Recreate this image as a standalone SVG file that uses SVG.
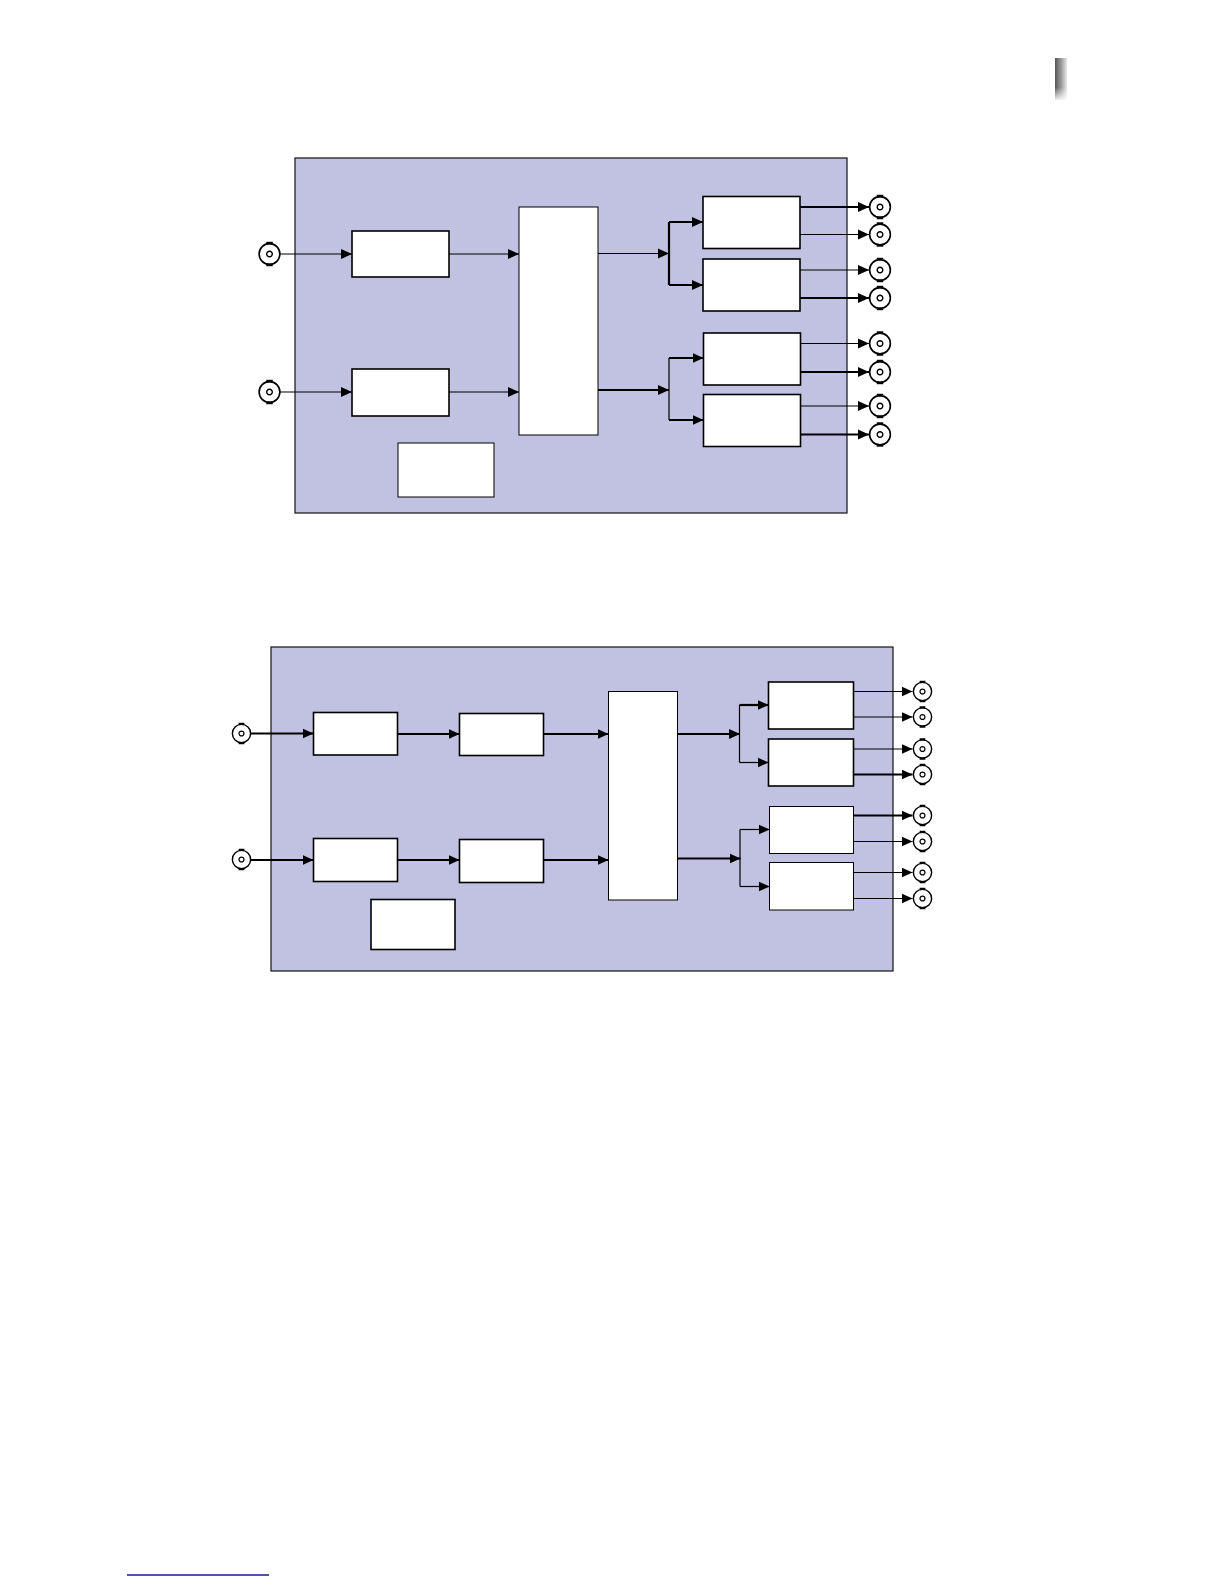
<svg xmlns="http://www.w3.org/2000/svg" width="1224" height="1584" viewBox="0 0 1224 1584">
<style>
.panel{fill:#c1c1e1;stroke:#111;stroke-width:1.2}
.box{fill:#fff;stroke:#000;stroke-width:1.6}
.thin{fill:#fff;stroke:#000;stroke-width:1}
.w1{fill:none;stroke:#000;stroke-width:1.2}
.w2{fill:none;stroke:#000;stroke-width:2.2}
.arr{marker-end:url(#ah)}
</style>
<defs>
<marker id="ah" markerUnits="userSpaceOnUse" markerWidth="12" markerHeight="12" refX="11" refY="5" orient="auto" viewBox="0 0 12 10">
<path d="M0,0 L11,5 L0,10 Z" fill="#000"/>
</marker>
<g id="bnc">
<circle r="9.6" fill="#fff" stroke="#000" stroke-width="1.5"/>
<circle r="2.6" fill="none" stroke="#000" stroke-width="1.3"/>
<rect x="-3" y="-11.3" width="6" height="2.4" fill="#000"/>
<rect x="-3" y="8.9" width="6" height="2.4" fill="#000"/>
</g>
<linearGradient id="gbar" x1="0" y1="0" x2="1" y2="0">
<stop offset="0" stop-color="#555"/>
<stop offset="0.5" stop-color="#999"/>
<stop offset="1" stop-color="#e8e8e8"/>
</linearGradient>
<linearGradient id="gfade" x1="0" y1="0" x2="0" y2="1">
<stop offset="0" stop-color="#fff" stop-opacity="0"/>
<stop offset="0.7" stop-color="#fff" stop-opacity="0"/>
<stop offset="1" stop-color="#fff" stop-opacity="0.9"/>
</linearGradient>
</defs>

<g id="page-mark">
<rect x="1055" y="58" width="12" height="42" fill="url(#gbar)"/>
<rect x="1055" y="58" width="12" height="42" fill="url(#gfade)"/>
</g>

<!-- Diagram 1 -->
<g id="d1-panel"><rect class="panel" x="295" y="158" width="552" height="355"/></g>
<g id="d1-in1"><use href="#bnc" transform="translate(269.5,254) scale(1.08)"/></g>
<g id="d1-in2"><use href="#bnc" transform="translate(269.5,392) scale(1.08)"/></g>
<g id="d1-a1"><rect class="box" x="352" y="231" width="97" height="46"/></g>
<g id="d1-a2"><rect class="box" x="352" y="369" width="97" height="47"/></g>
<g id="d1-center"><rect class="thin" x="519" y="207" width="79" height="228"/></g>
<g id="d1-small"><rect class="thin" x="398" y="443" width="96" height="54"/></g>
<g id="d1-b1"><rect class="box" x="703" y="196.5" width="97" height="52"/></g>
<g id="d1-b2"><rect class="box" x="703" y="259" width="97" height="52"/></g>
<g id="d1-b3"><rect class="box" x="703.5" y="333" width="97" height="52"/></g>
<g id="d1-b4"><rect class="box" x="703.5" y="394.5" width="97" height="52"/></g>
<g id="d1-out1"><use href="#bnc" transform="translate(880,207) scale(1.08)"/></g>
<g id="d1-out2"><use href="#bnc" transform="translate(880,234.5) scale(1.08)"/></g>
<g id="d1-out3"><use href="#bnc" transform="translate(880,270) scale(1.08)"/></g>
<g id="d1-out4"><use href="#bnc" transform="translate(880,298) scale(1.08)"/></g>
<g id="d1-out5"><use href="#bnc" transform="translate(880,343.5) scale(1.08)"/></g>
<g id="d1-out6"><use href="#bnc" transform="translate(880,372) scale(1.08)"/></g>
<g id="d1-out7"><use href="#bnc" transform="translate(880,406) scale(1.08)"/></g>
<g id="d1-out8"><use href="#bnc" transform="translate(880,434.5) scale(1.08)"/></g>

<!-- Diagram 2 -->
<g id="d2-panel"><rect class="panel" x="271" y="647" width="622" height="324"/></g>
<g id="d2-in1"><use href="#bnc" transform="translate(241.5,733.5) scale(0.95)"/></g>
<g id="d2-in2"><use href="#bnc" transform="translate(241.5,859.5) scale(0.95)"/></g>
<g id="d2-c1"><rect class="box" x="313.5" y="712.5" width="84" height="42.5"/></g>
<g id="d2-c2"><rect class="box" x="459.5" y="713.5" width="84" height="42"/></g>
<g id="d2-c3"><rect class="box" x="313.5" y="838.5" width="84" height="43"/></g>
<g id="d2-c4"><rect class="box" x="459.5" y="839.5" width="84" height="43"/></g>
<g id="d2-small"><rect class="box" x="371" y="899.5" width="84" height="50"/></g>
<g id="d2-center"><rect class="thin" x="608.5" y="691.5" width="69" height="208.5"/></g>
<g id="d2-d1"><rect class="box" x="768.5" y="682" width="85" height="47"/></g>
<g id="d2-d2"><rect class="box" x="768.5" y="739" width="85" height="47"/></g>
<g id="d2-d3"><rect class="thin" x="769.5" y="806.5" width="84" height="47"/></g>
<g id="d2-d4"><rect class="thin" x="769.5" y="862.5" width="84" height="47.5"/></g>
<g id="d2-out1"><use href="#bnc" transform="translate(922.5,691.5) scale(0.95)"/></g>
<g id="d2-out2"><use href="#bnc" transform="translate(922.5,717) scale(0.95)"/></g>
<g id="d2-out3"><use href="#bnc" transform="translate(922.5,749) scale(0.95)"/></g>
<g id="d2-out4"><use href="#bnc" transform="translate(922.5,774.5) scale(0.95)"/></g>
<g id="d2-out5"><use href="#bnc" transform="translate(922.5,815.5) scale(0.95)"/></g>
<g id="d2-out6"><use href="#bnc" transform="translate(922.5,841.5) scale(0.95)"/></g>
<g id="d2-out7"><use href="#bnc" transform="translate(922.5,872.5) scale(0.95)"/></g>
<g id="d2-out8"><use href="#bnc" transform="translate(922.5,898.5) scale(0.95)"/></g>

<g id="connectors">
<!-- diagram 1 -->
<path class="w1 arr" d="M280,254 H352"/>
<path class="w1 arr" d="M280,392 H352"/>
<path class="w1 arr" d="M449,254 H519"/>
<path class="w1 arr" d="M449,392 H519"/>
<path class="w1 arr" d="M598,253.5 H669"/>
<path class="w2" d="M669,222 V285"/>
<path class="w2 arr" d="M669,222 H703"/>
<path class="w2 arr" d="M669,285 H703"/>
<path class="w2 arr" d="M598,390 H669"/>
<path class="w1" d="M669,358 V420"/>
<path class="w2 arr" d="M669,358 H703.5"/>
<path class="w2 arr" d="M669,420 H703.5"/>
<path class="w2 arr" d="M800,207 H869"/>
<path class="w1 arr" d="M800,234.5 H869"/>
<path class="w1 arr" d="M800,270 H869"/>
<path class="w2 arr" d="M800,298 H869"/>
<path class="w1 arr" d="M800.5,343.5 H869"/>
<path class="w2 arr" d="M800.5,372 H869"/>
<path class="w1 arr" d="M800.5,406 H869"/>
<path class="w2 arr" d="M800.5,434.5 H869"/>
<!-- diagram 2 -->
<path class="w2 arr" d="M251,733.5 H313.5"/>
<path class="w2 arr" d="M397.5,734 H459.5"/>
<path class="w2 arr" d="M543.5,734 H608.5"/>
<path class="w2 arr" d="M251,860 H313.5"/>
<path class="w2 arr" d="M397.5,860 H459.5"/>
<path class="w2 arr" d="M543.5,860 H608.5"/>
<path class="w2 arr" d="M677.5,734 H740"/>
<path class="w1" d="M739.5,705 V762.5"/>
<path class="w2 arr" d="M739.5,705 H768.5"/>
<path class="w1 arr" d="M739.5,762.5 H768.5"/>
<path class="w2 arr" d="M677.5,858.5 H740.5"/>
<path class="w1" d="M740,829.5 V886.5"/>
<path class="w1 arr" d="M740,829.5 H769.5"/>
<path class="w1 arr" d="M740,886.5 H769.5"/>
<path class="w1 arr" d="M853.5,691.5 H912.5"/>
<path class="w1 arr" d="M853.5,717 H912.5"/>
<path class="w1 arr" d="M853.5,749 H912.5"/>
<path class="w2 arr" d="M853.5,774.5 H912.5"/>
<path class="w2 arr" d="M853.5,815.5 H912.5"/>
<path class="w1 arr" d="M853.5,841.5 H912.5"/>
<path class="w1 arr" d="M853.5,872.5 H912.5"/>
<path class="w1 arr" d="M853.5,898.5 H912.5"/>
</g>

<g id="footer-rule"><line x1="127" y1="1575" x2="269" y2="1575" stroke="#1a1a8a" stroke-width="1.5"/></g>
</svg>
